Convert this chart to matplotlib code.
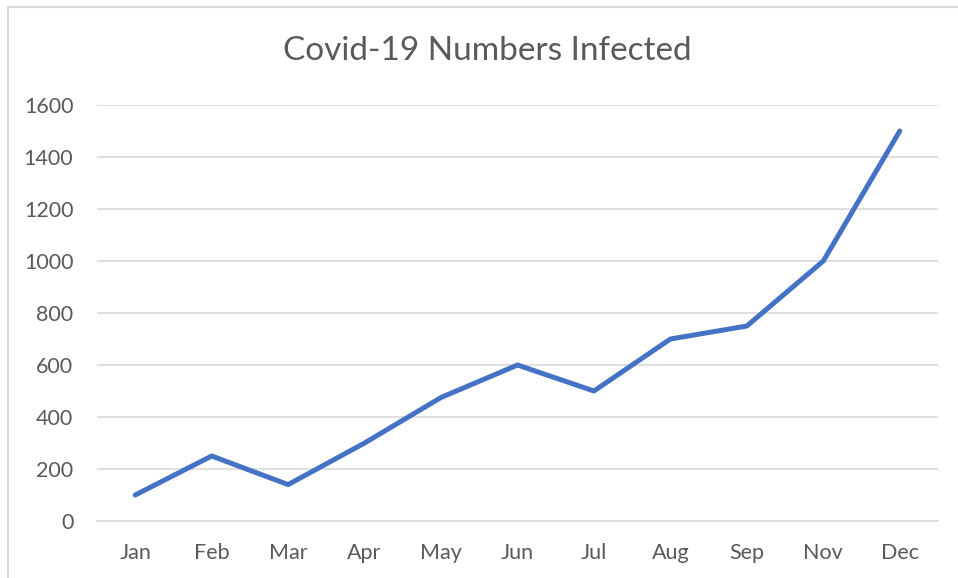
import matplotlib.pyplot as plt
from matplotlib.patches import Rectangle

months = ['Jan', 'Feb', 'Mar', 'Apr', 'May', 'Jun', 'Jul', 'Aug', 'Sep', 'Nov', 'Dec']
infected = [100, 250, 140, 300, 475, 600, 500, 700, 750, 1000, 1500]
yticks = [0, 200, 400, 600, 800, 1000, 1200, 1400, 1600]

plt.rcParams['font.family'] = ['Lato', 'DejaVu Sans']
txt = '#595959'

fig = plt.figure(figsize=(9.58, 5.78), dpi=100)
fig.patches.append(Rectangle((8 / 958, -0.1), 1.1, 1 - 7 / 578 + 0.1,
                             transform=fig.transFigure, fill=False,
                             edgecolor='#d9d9d9', linewidth=1.5))

ax = fig.add_axes([97 / 958, 57 / 578, 841 / 958, 416 / 578])
x = list(range(len(months)))
ax.plot(x, infected, color='#4472C4', linewidth=3.6, solid_capstyle='round',
        solid_joinstyle='round', zorder=3)

ax.set_xlim(-0.5, len(months) - 0.5)
ax.set_ylim(0, 1600)
ax.set_yticks(yticks)
ax.set_xticks(x)
ax.set_xticklabels(months)
ax.grid(axis='y', color='#d9d9d9', linewidth=1.2)
ax.set_axisbelow(True)
for s in ['top', 'right', 'left']:
    ax.spines[s].set_visible(False)
ax.spines['bottom'].set_color('#d9d9d9')
ax.spines['bottom'].set_linewidth(1.2)
ax.tick_params(length=0, labelsize=15.5, colors=txt)
ax.tick_params(axis='y', pad=17)
ax.tick_params(axis='x', pad=16)

fig.text(487 / 958, 1 - 51 / 578, 'Covid-19 Numbers Infected', ha='center',
         va='center', fontsize=24, color=txt)

fig.savefig('out.png', dpi=100)
